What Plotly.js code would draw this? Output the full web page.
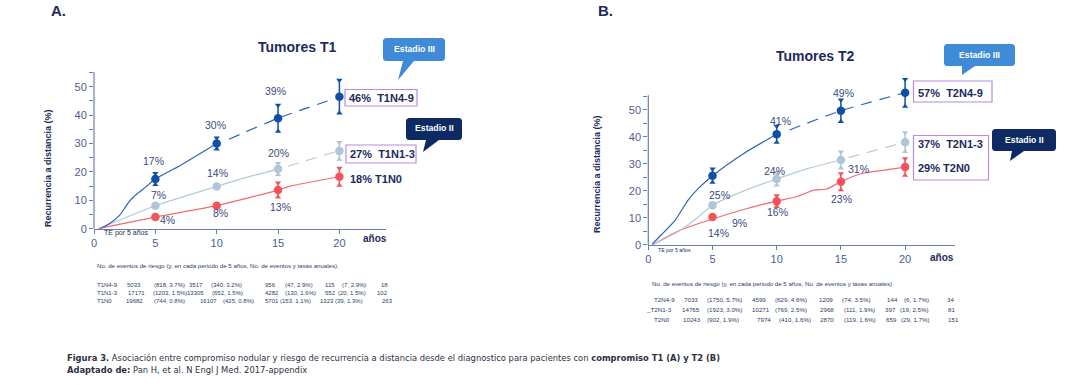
<!DOCTYPE html>
<html><head><meta charset="utf-8">
<script src="https://cdn.plot.ly/plotly-3.0.1.min.js"></script>
<style>html,body{margin:0;padding:0;background:#fff}#chart{width:1080px;height:385px}</style>
</head><body><div id="chart"></div>
<script>
// ---------------- DATA ----------------
const years = [5, 10, 15, 20];
const xTickVals = [0, 5, 10, 15, 20];
const yTickVals = [0, 5, 10, 15, 20, 25, 30, 35, 40, 45, 50, 55];
const yTickText = ['0', '', '10', '', '20', '', '30', '', '40', '', '50', ''];

// Panel A - Tumores T1 (points at 5-year marks, error half-widths)
const t1n49 = [17.5, 30, 38.9, 46.5];
const t1n49Err = [2, 2, 4.6, 5.8];
const t1n13 = [8.1, 14.9, 21, 27.4];
const t1n13Err = [0, 0, 2, 3];
const t1n0 = [4.1, 8.1, 13.6, 18.3];
const t1n0Err = [0, 0, 2.5, 3];
// curves
const t1n49SolidX = [0.5, 1.3, 2.1, 2.8, 3.3, 4.0, 5, 7, 10];
const t1n49SolidY = [0, 1.9, 4.8, 9.2, 11.5, 13.9, 17.5, 22.2, 30];
const t1n49DashX = [11, 15, 19.6];
const t1n49DashY = [31.5, 38.9, 45.8];
const t1n13SolidX = [0.4, 5, 10, 12.2, 15];
const t1n13SolidY = [0, 8.1, 14.9, 17.8, 21];
const t1n13DashX = [15.8, 19.6];
const t1n13DashY = [22, 27];
const t1n0SolidX = [0.3, 5, 10, 15, 16, 20];
const t1n0SolidY = [0, 4.1, 8.1, 13.6, 15, 18.3];

// Panel B - Tumores T2
const t2n49 = [25.6, 40.9, 49.6, 56.2];
const t2n49Err = [2.5, 3, 4, 5];
const t2n13 = [14.7, 24.4, 31.4, 38];
const t2n13Err = [0, 2.3, 3, 3.5];
const t2n0 = [10.3, 16.2, 23.4, 28.8];
const t2n0Err = [0, 2, 3, 3.1];
const t2n49SolidX = [0.3, 1.0, 2.1, 3.1, 3.9, 5, 7.5, 10];
const t2n49SolidY = [0.3, 3.7, 9.2, 16.6, 20.9, 25.6, 34, 40.9];
const t2n49DashX = [11, 15, 19.8];
const t2n49DashY = [42.5, 49.6, 56];
const t2n13SolidX = [0.3, 2.3, 3.6, 5, 7.5, 10, 12.4, 15];
const t2n13SolidY = [0, 4.9, 9.2, 14.7, 20.1, 24.4, 28.2, 31.4];
const t2n13DashX = [15.6, 19.7];
const t2n13DashY = [32.3, 37.6];
const t2n0SolidX = [0.3, 2.5, 5, 7.7, 10, 11.6, 12.9, 13.9, 15, 16.7, 18.1, 20];
const t2n0SolidY = [0, 5.5, 9.6, 13.5, 16.2, 17.9, 20.3, 20.7, 23.4, 26.5, 27.5, 28.8];

// labels
const pctLabelsA = ['17%', '30%', '39%', '7%', '14%', '20%', '4%', '8%', '13%'];
const pctLabelsB = ['41%', '49%', '25%', '24%', '31%', '9%', '14%', '16%', '23%'];
const endLabelsA = ['46%&nbsp; T1N4-9', '27%&nbsp; T1N1-3', '18% T1N0'];
const endLabelsB = ['57%&nbsp; T2N4-9', '37%&nbsp; T2N1-3', '29% T2N0'];

// risk tables
const tableHeader = 'No. de eventos de riesgo (y, en cada periodo de 5 años, No. de eventos y tasas anuales).';
const tblA1 = ['T1N4-9', '5033', '(818, 3.7%)', '3517', '(340, 3.2%)', '956', '(47, 2.9%)', '115', '(7, 2.9%)', '18'];
const tblA2 = ['T1N1-3', '17171', '(1203, 1.5%)', '13305', '(652, 1.5%)', '4282', '(130, 1.6%)', '552', '(20, 1.5%)', '102'];
const tblA3 = ['T1N0', '19682', '(744, 0.8%)', '16107', '(425, 0.8%)', '5701', '(153. 1.1%)', '1323', '(39, 1.3%)', '263'];
const tblB1 = ['T2N4-9', '7033', '(1750, 5.7%)', '4599', '(629, 4.6%)', '1209', '(74, 3.5%)', '144', '(6, 1.7%)', '34'];
const tblB2 = ['_T2N1-3', '14765', '(1923, 3.0%)', '10271', '(769, 2.5%)', '2968', '(111, 1.9%)', '397', '(19, 2.5%)', '81'];
const tblB3 = ['T2N0', '10243', '(902, 1.9%)', '7974', '(410, 1.6%)', '2870', '(119. 1.6%)', '659', '(29, 1.7%)', '151'];

// ---------------- STYLE / LAYOUT ----------------
const W = 1080, H = 385;
const X = p => p / W, Y = p => 1 - p / H;
const FONT = 'Liberation Sans, Arial, sans-serif';
const NARROW = 'DejaVu Sans Condensed, Liberation Sans, Arial, sans-serif';
const NAVY = '#1c2a5c';
const PCT = '#3a4a7e';
const AXIS = '#6c7cae';
const TBL = '#2d3b6c';
const C_DARK = '#0f4fa5', C_DARKLINE = '#2f62b5';
const C_LIGHT = '#aec6d8', C_LIGHTLINE = '#b3cadb';
const C_RED = '#f2545a', C_REDLINE = '#f26a6e';

const traces = [];
function line(xa, ya, xs, ys, color, dash) {
  traces.push({x: xs, y: ys, xaxis: xa, yaxis: ya, mode: 'lines', hoverinfo: 'skip', cliponaxis: false,
    line: {color: color, width: 1.2, dash: dash || 'solid', shape: 'spline', smoothing: 0.6}});
}
function points(xa, ya, vals, errs, color) {
  traces.push({x: years, y: vals, xaxis: xa, yaxis: ya, mode: 'markers', cliponaxis: false,
    marker: {color: color, size: 8.5},
    error_y: {type: 'data', array: errs, visible: true, color: color, thickness: 1.5, width: 0}});
  const tx = [], top = [], bot = [];
  errs.forEach((e, i) => { if (e > 0) { tx.push(years[i]); top.push(vals[i] + e); bot.push(vals[i] - e); } });
  traces.push({x: tx, y: top, xaxis: xa, yaxis: ya, mode: 'markers', cliponaxis: false, marker: {symbol: 'triangle-down', size: 5.5, color: color}});
  traces.push({x: tx, y: bot, xaxis: xa, yaxis: ya, mode: 'markers', cliponaxis: false, marker: {symbol: 'triangle-up', size: 5.5, color: color}});
}
const DASH = '11px,8px';
// Panel A
line('x', 'y', t1n0SolidX, t1n0SolidY, C_REDLINE);
line('x', 'y', t1n13SolidX, t1n13SolidY, C_LIGHTLINE);
line('x', 'y', t1n13DashX, t1n13DashY, C_LIGHTLINE, DASH);
line('x', 'y', t1n49SolidX, t1n49SolidY, C_DARKLINE);
line('x', 'y', t1n49DashX, t1n49DashY, C_DARKLINE, DASH);
points('x', 'y', t1n0, t1n0Err, C_RED);
points('x', 'y', t1n13, t1n13Err, C_LIGHT);
points('x', 'y', t1n49, t1n49Err, C_DARK);
// Panel B
line('x2', 'y2', t2n0SolidX, t2n0SolidY, C_REDLINE);
line('x2', 'y2', t2n13SolidX, t2n13SolidY, C_LIGHTLINE);
line('x2', 'y2', t2n13DashX, t2n13DashY, C_LIGHTLINE, DASH);
line('x2', 'y2', t2n49SolidX, t2n49SolidY, C_DARKLINE);
line('x2', 'y2', t2n49DashX, t2n49DashY, C_DARKLINE, DASH);
points('x2', 'y2', t2n0, t2n0Err, C_RED);
points('x2', 'y2', t2n13, t2n13Err, C_LIGHT);
points('x2', 'y2', t2n49, t2n49Err, C_DARK);

function xax(d0, d1, r, anchor) {
  return {domain: [X(d0), X(d1)], range: r, anchor: anchor, showline: true, linecolor: AXIS, linewidth: 1.2,
    ticks: 'outside', ticklen: 4, tickwidth: 1, tickcolor: AXIS, tickvals: xTickVals,
    tickfont: {family: FONT, size: 11, color: '#4d5d92'}, showgrid: false, zeroline: false, fixedrange: true};
}
// y axes: range extends above the drawn axis line so top error bars are not hidden;
// the visible axis line is drawn as a shape from 0 to the axis top value
function yax(p0, pxPerUnit, top, anchor) {
  return {domain: [Y(p0), Y(p0 - top * pxPerUnit)], range: [0, top], anchor: anchor, showline: false,
    ticks: 'outside', ticklen: 4, tickwidth: 1, tickcolor: AXIS, tickvals: yTickVals, ticktext: yTickText,
    tickfont: {family: FONT, size: 11, color: '#4d5d92'}, showgrid: false, zeroline: false, fixedrange: true};
}

const anns = [];
function ann(text, x, y, size, color, o) {
  o = o || {};
  anns.push({text: text, x: X(x), y: Y(y), xref: 'paper', yref: 'paper', showarrow: false,
    xanchor: o.xa || 'center', yanchor: 'middle', textangle: o.angle || 0,
    font: {family: o.family || FONT, size: size, color: color}});
}
// panel letters and titles
ann('<b>A.</b>', 58, 10, 15, NAVY);
ann('<b>B.</b>', 605, 10, 15, NAVY);
ann('<b>Tumores T1</b>', 297, 47, 14, NAVY);
ann('<b>Tumores T2</b>', 815, 56, 14, NAVY);
// axis titles
ann('<b>Recurrencia a distancia (%)</b>', 48, 168, 9, NAVY, {angle: -90});
ann('<b>Recurrencia a distancia (%)</b>', 597, 174, 9, NAVY, {angle: -90});
ann('<b>años</b>', 375, 238, 10, NAVY);
ann('<b>años</b>', 942, 257, 10, NAVY);
ann('TE por 5 años', 126, 233, 7, NAVY);
ann('TE por 5 años', 674, 249.5, 5.2, NAVY);
// percent labels
const pctPosA = [[153, 161], [215, 125], [275, 91], [158, 195], [217, 173], [278, 153], [167, 220], [220, 213], [280, 207]];
const pctPosB = [[780, 121], [843, 93], [719, 195], [774, 171], [858, 169], [739, 223], [718, 233], [777, 212], [841, 199]];
pctLabelsA.forEach((t, i) => ann(t, pctPosA[i][0], pctPosA[i][1], 10.5, PCT));
pctLabelsB.forEach((t, i) => ann(t, pctPosB[i][0], pctPosB[i][1], 10.5, PCT));
// end labels
const endPosA = [[347, 98], [348, 154], [348, 179]];
const endPosB = [[916, 92.5], [916, 144], [916, 167.5]];
endLabelsA.forEach((t, i) => ann('<b>' + t + '</b>', endPosA[i][0], endPosA[i][1], 11, NAVY, {xa: 'left'}));
endLabelsB.forEach((t, i) => ann('<b>' + t + '</b>', endPosB[i][0], endPosB[i][1], 11, NAVY, {xa: 'left'}));
// tables
ann(tableHeader, 95, 265, 6.1, TBL, {xa: 'left'});
ann(tableHeader, 650, 283.5, 6.1, TBL, {xa: 'left'});
const colA = [[95, 125, 152, 187, 209, 263, 283, 323, 340, 379],
              [95, 125.5, 151, 184.5, 210, 263, 283, 323, 336, 375],
              [95, 124, 152, 198, 221, 263, 278, 318, 333, 380]];
const rowA = [285, 293, 301];
const colB = [[652, 682, 705, 750, 773, 817, 840, 885, 902, 945],
              [644, 680, 705, 750, 773, 818, 842, 883, 898, 946],
              [652, 681, 705, 755, 777, 818, 842, 884, 899, 946]];
const rowB = [299.5, 309.5, 319.5];
[tblA1, tblA2, tblA3].forEach((row, r) => row.forEach((t, c) => ann(t, colA[r][c], rowA[r], 6, TBL, {xa: 'left'})));
[tblB1, tblB2, tblB3].forEach((row, r) => row.forEach((t, c) => ann(t, colB[r][c], rowB[r], 6.2, TBL, {xa: 'left'})));
// caption
anns.push({text: '<b>Figura 3.</b> Asociación entre compromiso nodular y riesgo de recurrencia a distancia desde el diagnostico para pacientes con <b>compromiso T1 (A) y T2 (B)</b><br><b>Adaptado de:</b> Pan H, et al. N Engl J Med. 2017-appendix',
  x: X(65), y: Y(363), xref: 'paper', yref: 'paper', showarrow: false, xanchor: 'left', yanchor: 'middle', align: 'left',
  font: {family: NARROW, size: 9.3, color: '#2e3142'}});

// shapes
const shapes = [];
// visible y-axis lines (0 .. 55.x)
shapes.push({type: 'line', xref: 'x domain', yref: 'y', x0: 0, x1: 0, y0: 0, y1: 55.2, line: {color: AXIS, width: 1.2}});
shapes.push({type: 'line', xref: 'x2 domain', yref: 'y2', x0: 0, x1: 0, y0: 0, y1: 55.3, line: {color: AXIS, width: 1.2}});
const P = (x, y) => X(x).toFixed(5) + ',' + Y(y).toFixed(5);
function box(x0, y0, x1, y1) {
  shapes.push({type: 'rect', xref: 'paper', yref: 'paper', x0: X(x0), x1: X(x1), y0: Y(y1), y1: Y(y0),
    line: {color: '#b98ae2', width: 1.2}, fillcolor: 'rgba(0,0,0,0)'});
}
function callout(x0, y0, x1, y1, tail, fill, text) {
  const r = 3.5;
  const path = 'M' + P(x0 + r, y0) + ' L' + P(x1 - r, y0) + ' Q' + P(x1, y0) + ' ' + P(x1, y0 + r) +
    ' L' + P(x1, y1 - r) + ' Q' + P(x1, y1) + ' ' + P(x1 - r, y1) +
    ' L' + P(tail[1][0], y1) + ' L' + P(tail[2][0], tail[2][1]) + ' L' + P(tail[0][0], y1) +
    ' L' + P(x0 + r, y1) + ' Q' + P(x0, y1) + ' ' + P(x0, y1 - r) +
    ' L' + P(x0, y0 + r) + ' Q' + P(x0, y0) + ' ' + P(x0 + r, y0) + ' Z';
  shapes.push({type: 'path', xref: 'paper', yref: 'paper', path: path, fillcolor: fill, line: {width: 0}});
  ann('<b>' + text + '</b>', (x0 + x1) / 2, (y0 + y1) / 2 - 0.5, 8.7, '#ffffff');
}
box(345, 89.5, 417, 106);
box(346, 145, 416, 163);
box(913.5, 81, 992, 102);
box(913.5, 135.5, 988.5, 180);
callout(383, 38, 445, 61, [[403, 61], [414, 61], [398, 80]], '#3f8bd8', 'Estadio III');
callout(406, 118, 462, 140, [[426, 140], [439, 140], [423, 152]], '#0d2a63', 'Estadio II');
callout(944, 44, 1015, 66, [[962, 66], [975, 66], [962, 75]], '#3f8bd8', 'Estadio III');
callout(992, 129, 1056, 151, [[1012, 151], [1024, 151], [1010, 161]], '#0d2a63', 'Estadio II');

const layout = {
  width: W, height: H, margin: {l: 0, r: 0, t: 0, b: 0}, paper_bgcolor: '#ffffff', plot_bgcolor: 'rgba(0,0,0,0)',
  showlegend: false, hovermode: false,
  xaxis: xax(94, 94 + 23.8 * 12.27, [0, 23.8], 'y'),
  yaxis: yax(228.7, 2.84, 62, 'x'),
  xaxis2: xax(648.3, 648.3 + 23.9 * 12.84, [0, 23.9], 'y2'),
  yaxis2: yax(245, 2.707, 63, 'x2'),
  annotations: anns, shapes: shapes
};
Plotly.newPlot('chart', traces, layout, {displayModeBar: false, staticPlot: true});
</script></body></html>
